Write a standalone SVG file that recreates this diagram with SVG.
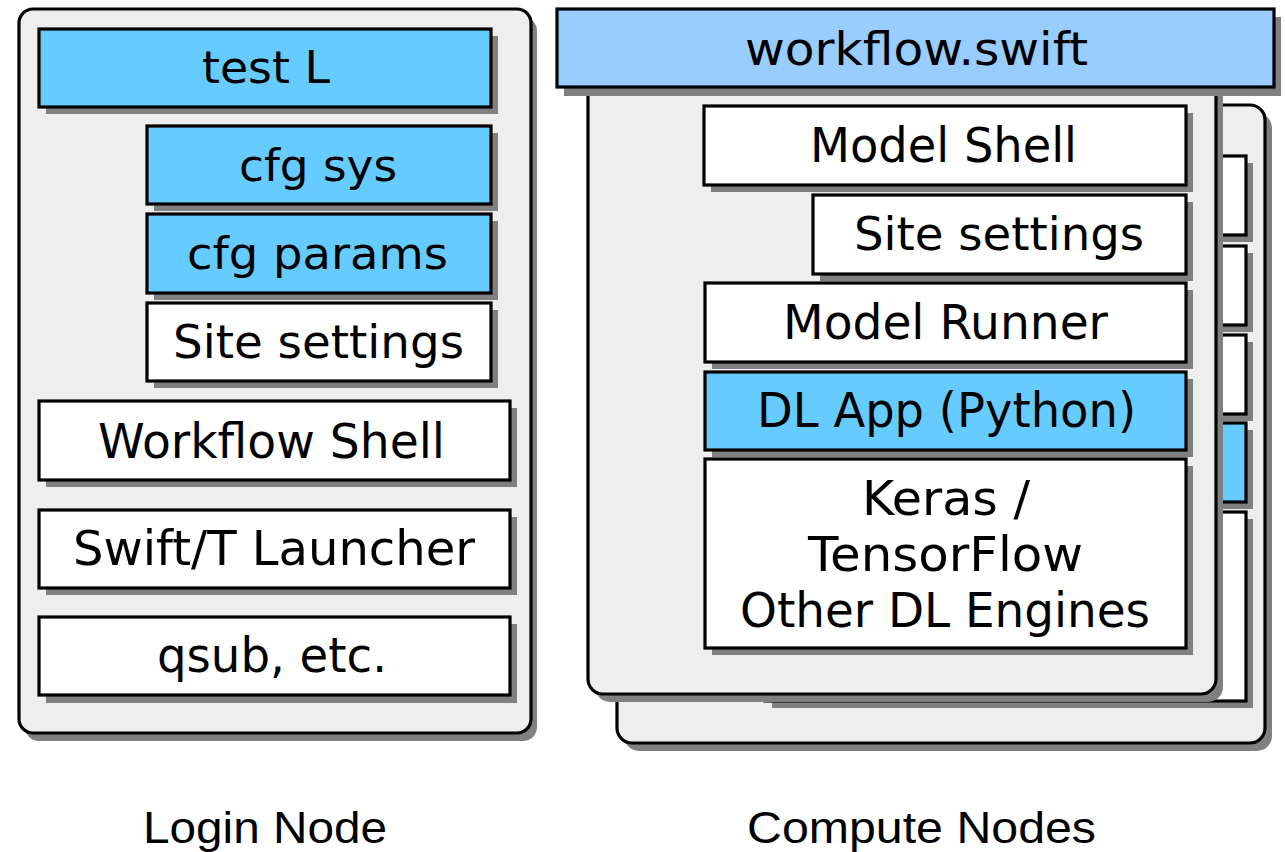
<svg xmlns="http://www.w3.org/2000/svg" width="1285" height="852" viewBox="0 0 1285 852">
  <style>
    .shadow { fill: #808080; }
    .shell { fill: #eeeeee; stroke: #000; stroke-width: 3.2; }
    .box { fill: #ffffff; stroke: #000; stroke-width: 3.2; }
    .blue { fill: #66ccff; stroke: #000; stroke-width: 3.2; }
    .lblue { fill: #99ccff; stroke: #000; stroke-width: 3.2; }
    .t { font-family: "DejaVu Sans", "Liberation Sans", sans-serif; fill: #000; text-anchor: middle; }
    .cap { font-family: "Liberation Sans", Arial, sans-serif; font-size: 44px; fill: #000; text-anchor: middle; }
  </style>
  <rect width="1285" height="852" fill="#ffffff"/>

  <!-- Login node -->
  <g id="login-node">
    <rect class="shadow" x="25" y="17" width="512" height="724" rx="14"/>
    <rect class="shell" x="19" y="9" width="512" height="724" rx="14"/>
  </g>
  <g id="test-l">
    <rect class="shadow" x="46" y="36" width="452" height="78"/>
    <rect class="blue" x="39" y="29" width="452" height="78"/>
    <text class="t" x="266" y="83" font-size="45" textLength="128" lengthAdjust="spacingAndGlyphs">test L</text>
  </g>
  <g id="cfg-sys">
    <rect class="shadow" x="154" y="133" width="344" height="78"/>
    <rect class="blue" x="147" y="126" width="344" height="78"/>
    <text class="t" x="318" y="181" font-size="45" textLength="158" lengthAdjust="spacingAndGlyphs">cfg sys</text>
  </g>
  <g id="cfg-params">
    <rect class="shadow" x="154" y="221" width="344" height="79"/>
    <rect class="blue" x="147" y="214" width="344" height="79"/>
    <text class="t" x="317.5" y="269" font-size="45" textLength="261" lengthAdjust="spacingAndGlyphs">cfg params</text>
  </g>
  <g id="login-site-settings">
    <rect class="shadow" x="154" y="310" width="344" height="78"/>
    <rect class="box" x="147" y="303" width="344" height="78"/>
    <text class="t" x="318.5" y="358" font-size="47" textLength="291" lengthAdjust="spacingAndGlyphs">Site settings</text>
  </g>
  <g id="workflow-shell">
    <rect class="shadow" x="46" y="408" width="471" height="79"/>
    <rect class="box" x="39" y="401" width="471" height="79"/>
    <text class="t" x="271.5" y="458" font-size="48" textLength="347" lengthAdjust="spacingAndGlyphs">Workflow Shell</text>
  </g>
  <g id="swift-t-launcher">
    <rect class="shadow" x="46" y="517" width="471" height="78"/>
    <rect class="box" x="39" y="510" width="471" height="78"/>
    <text class="t" x="274" y="565" font-size="48" textLength="402" lengthAdjust="spacingAndGlyphs">Swift/T Launcher</text>
  </g>
  <g id="qsub">
    <rect class="shadow" x="46" y="624" width="471" height="79"/>
    <rect class="box" x="39" y="617" width="471" height="78"/>
    <text class="t" x="272" y="672" font-size="48" textLength="230" lengthAdjust="spacingAndGlyphs">qsub, etc.</text>
  </g>
  <g id="login-label">
    <text class="cap" x="265" y="843" textLength="244" lengthAdjust="spacingAndGlyphs">Login Node</text>
  </g>

  <!-- Compute node, rear copy -->
  <g id="compute-node-back">
    <rect class="shadow" x="624" y="113" width="648" height="638" rx="15"/>
    <rect class="shell" x="617" y="105" width="648" height="638" rx="15"/>
    <rect class="shadow" x="771" y="163" width="482" height="79"/>
    <rect class="box" x="764" y="156" width="482" height="79"/>
    <rect class="shadow" x="880" y="253" width="373" height="79"/>
    <rect class="box" x="873" y="246" width="373" height="79"/>
    <rect class="shadow" x="772" y="342" width="481" height="79"/>
    <rect class="box" x="765" y="335" width="481" height="79"/>
    <rect class="shadow" x="772" y="430" width="481" height="79"/>
    <rect class="blue" x="765" y="423" width="481" height="79"/>
    <rect class="shadow" x="772" y="519" width="481" height="189"/>
    <rect class="box" x="765" y="512" width="481" height="189"/>
  </g>

  <!-- Compute node, front copy -->
  <g id="compute-node-front">
    <rect class="shadow" x="595" y="68" width="628" height="634" rx="15"/>
    <rect class="shell" x="588" y="60" width="628" height="634" rx="15"/>
  </g>
  <g id="model-shell">
    <rect class="shadow" x="711" y="113" width="482" height="79"/>
    <rect class="box" x="704" y="106" width="482" height="79"/>
    <text class="t" x="943.5" y="162" font-size="48" textLength="267" lengthAdjust="spacingAndGlyphs">Model Shell</text>
  </g>
  <g id="compute-site-settings">
    <rect class="shadow" x="820" y="202" width="373" height="79"/>
    <rect class="box" x="813" y="195" width="373" height="79"/>
    <text class="t" x="999" y="250" font-size="47" textLength="290" lengthAdjust="spacingAndGlyphs">Site settings</text>
  </g>
  <g id="model-runner">
    <rect class="shadow" x="712" y="290" width="481" height="79"/>
    <rect class="box" x="705" y="283" width="481" height="79"/>
    <text class="t" x="945.5" y="339" font-size="48" textLength="325" lengthAdjust="spacingAndGlyphs">Model Runner</text>
  </g>
  <g id="dl-app">
    <rect class="shadow" x="712" y="379" width="481" height="78"/>
    <rect class="blue" x="705" y="372" width="481" height="78"/>
    <text class="t" x="946.5" y="427" font-size="48" textLength="379" lengthAdjust="spacingAndGlyphs">DL App (Python)</text>
  </g>
  <g id="dl-engines">
    <rect class="shadow" x="712" y="466" width="481" height="189"/>
    <rect class="box" x="705" y="459" width="481" height="189"/>
    <text class="t" x="946" y="515" font-size="48" textLength="168" lengthAdjust="spacingAndGlyphs">Keras /</text>
    <text class="t" x="945.5" y="571" font-size="48" textLength="275" lengthAdjust="spacingAndGlyphs">TensorFlow</text>
    <text class="t" x="945" y="627" font-size="48" textLength="410" lengthAdjust="spacingAndGlyphs">Other DL Engines</text>
  </g>
  <g id="workflow-swift">
    <rect class="shadow" x="564" y="17" width="717" height="79"/>
    <rect class="lblue" x="557" y="9" width="717" height="78"/>
    <text class="t" x="916.5" y="65" font-size="46" textLength="343" lengthAdjust="spacingAndGlyphs">workflow.swift</text>
  </g>
  <g id="compute-label">
    <text class="cap" x="921.5" y="843" textLength="349" lengthAdjust="spacingAndGlyphs">Compute Nodes</text>
  </g>
</svg>
